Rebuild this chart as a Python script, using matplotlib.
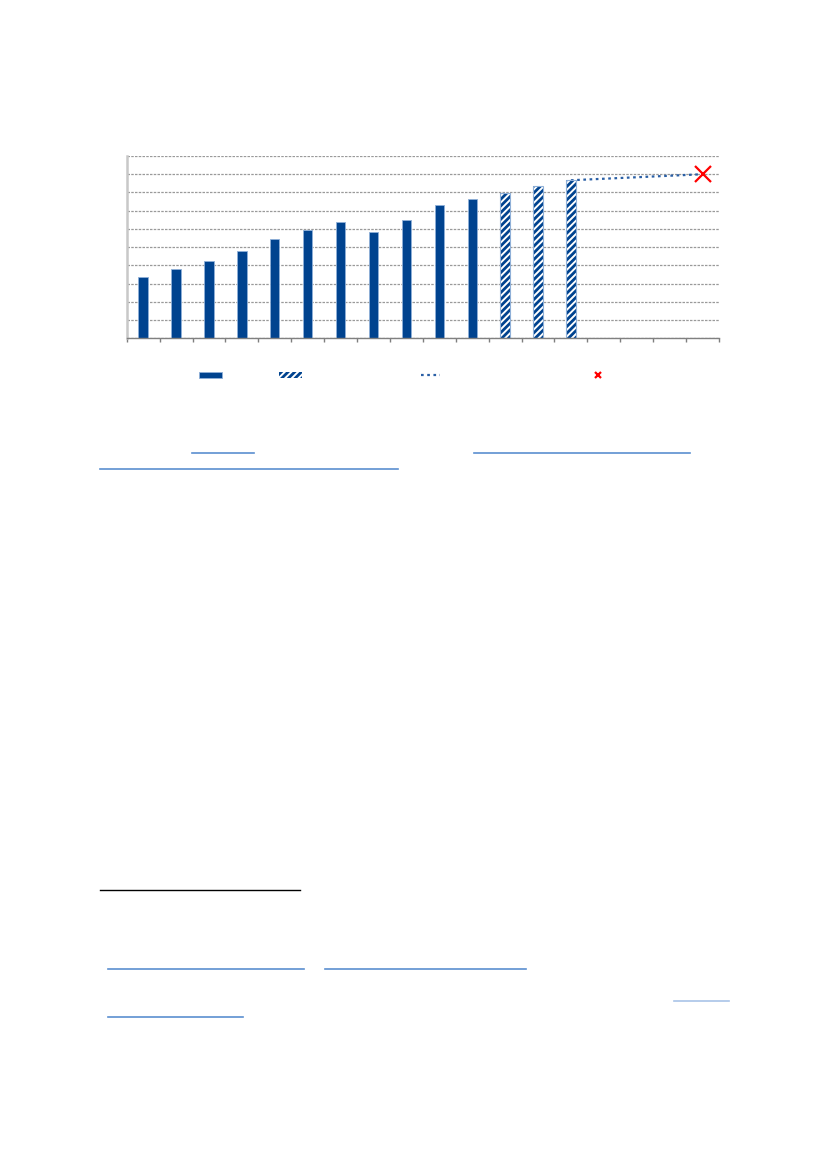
import numpy as np
import matplotlib
matplotlib.use("Agg")
import matplotlib.pyplot as plt
from matplotlib.patches import Rectangle
from matplotlib.lines import Line2D

# data (grid units x10, no labels in the reference)
n_slots = 18
actual_vals = [33.8, 38.0, 42.4, 47.9, 54.5, 59.4, 63.6, 58.3, 64.9, 72.9, 76.4]
estimate_vals = [79.7, 83.4, 86.7]
target_slot = 18
target_val = 90.0

W, H = 827, 1169
BLUE = "#00438f"
EDGE = "#8fb0d8"

plt.rcParams["hatch.linewidth"] = 2.0

fig = plt.figure(figsize=(W / 100, H / 100), dpi=100)

def fx(x):
    return x / W

def fy(y):
    return 1 - y / H

ax = fig.add_axes([fx(126.7), fy(338.3), fx(719) - fx(126.7), fy(156) - fy(338.3)])

pos_a = np.arange(len(actual_vals)) + 0.5
pos_e = np.arange(len(actual_vals), len(actual_vals) + len(estimate_vals)) + 0.5
bw = 0.285

# dotted projection line first, hidden behind the last bar
ax.plot([pos_e[-1], target_slot - 0.5], [estimate_vals[-1], target_val],
        linestyle=(0, (1.2, 1.6)), color="#2a5fa5", lw=1.6, zorder=2)

ax.bar(pos_a, actual_vals, width=bw, color=BLUE, edgecolor=EDGE, linewidth=0.6, zorder=3)
ax.bar(pos_e, estimate_vals, width=bw, color="white", edgecolor=BLUE,
       hatch="/////", linewidth=0, zorder=3)
ax.bar(pos_e, estimate_vals, width=bw, fill=False, edgecolor=EDGE, linewidth=0.8, zorder=4)

ax.plot([target_slot - 0.5], [target_val], marker="x", color="#ff0000",
        markersize=12, mew=1.6, zorder=5)

ax.set_xlim(0, n_slots)
ax.set_ylim(0, 100)
ax.set_yticks(np.arange(0, 101, 10))
ax.set_xticks(np.arange(0, n_slots + 1))
ax.tick_params(axis="y", length=0, labelleft=False)
ax.tick_params(axis="x", length=3, width=1, color="#7f7f7f", labelbottom=False)
ax.yaxis.grid(True, color="#9a9a9a", linestyle=(0, (2, 1)), lw=0.9, zorder=0)
ax.set_axisbelow(True)
for s in ["top", "right"]:
    ax.spines[s].set_visible(False)
ax.spines["left"].set_color("#c8c8c8")
ax.spines["left"].set_linewidth(1.8)
ax.spines["bottom"].set_color("#808080")
ax.spines["bottom"].set_linewidth(1.0)
ax.spines["bottom"].set_zorder(6)

# legend keys (the reference shows no legend text)
fig.add_artist(Rectangle((fx(199.3), fy(378.3)), fx(222.3) - fx(199.3), fy(371.7) - fy(378.3),
                         transform=fig.transFigure, facecolor=BLUE, edgecolor=EDGE, lw=0.6))
fig.add_artist(Rectangle((fx(279), fy(378.3)), fx(302) - fx(279), fy(371.7) - fy(378.3),
                         transform=fig.transFigure, facecolor="white", edgecolor=BLUE,
                         hatch="/////", lw=0))
fig.add_artist(Line2D([fx(421), fx(440)], [fy(374.7), fy(374.7)], transform=fig.transFigure,
                      linestyle=(0, (1.2, 1.6)), color="#2a5fa5", lw=1.6))
fig.add_artist(Line2D([fx(597.5)], [fy(375)], transform=fig.transFigure, marker="x",
                      color="#ff0000", markersize=4, mew=1.6))

# underlines of the page text (the text itself is absent in the reference)
link_lines = [
    (192, 254, 453, "#5b8fd0"),
    (474, 690, 453, "#5b8fd0"),
    (100, 398, 469, "#5b8fd0"),
    (108, 304, 968.5, "#5b8fd0"),
    (325, 526, 968.5, "#5b8fd0"),
    (674, 729, 1001, "#a9c4e8"),
    (108, 243, 1017, "#5b8fd0"),
]
for x0, x1, y, c in link_lines:
    fig.add_artist(Line2D([fx(x0), fx(x1)], [fy(y), fy(y)], transform=fig.transFigure,
                          color=c, lw=1.2))
fig.add_artist(Line2D([fx(100), fx(300)], [fy(889.5), fy(889.5)], transform=fig.transFigure,
                      color="black", lw=1.0))

fig.savefig("out.png", dpi=100, facecolor="white")
